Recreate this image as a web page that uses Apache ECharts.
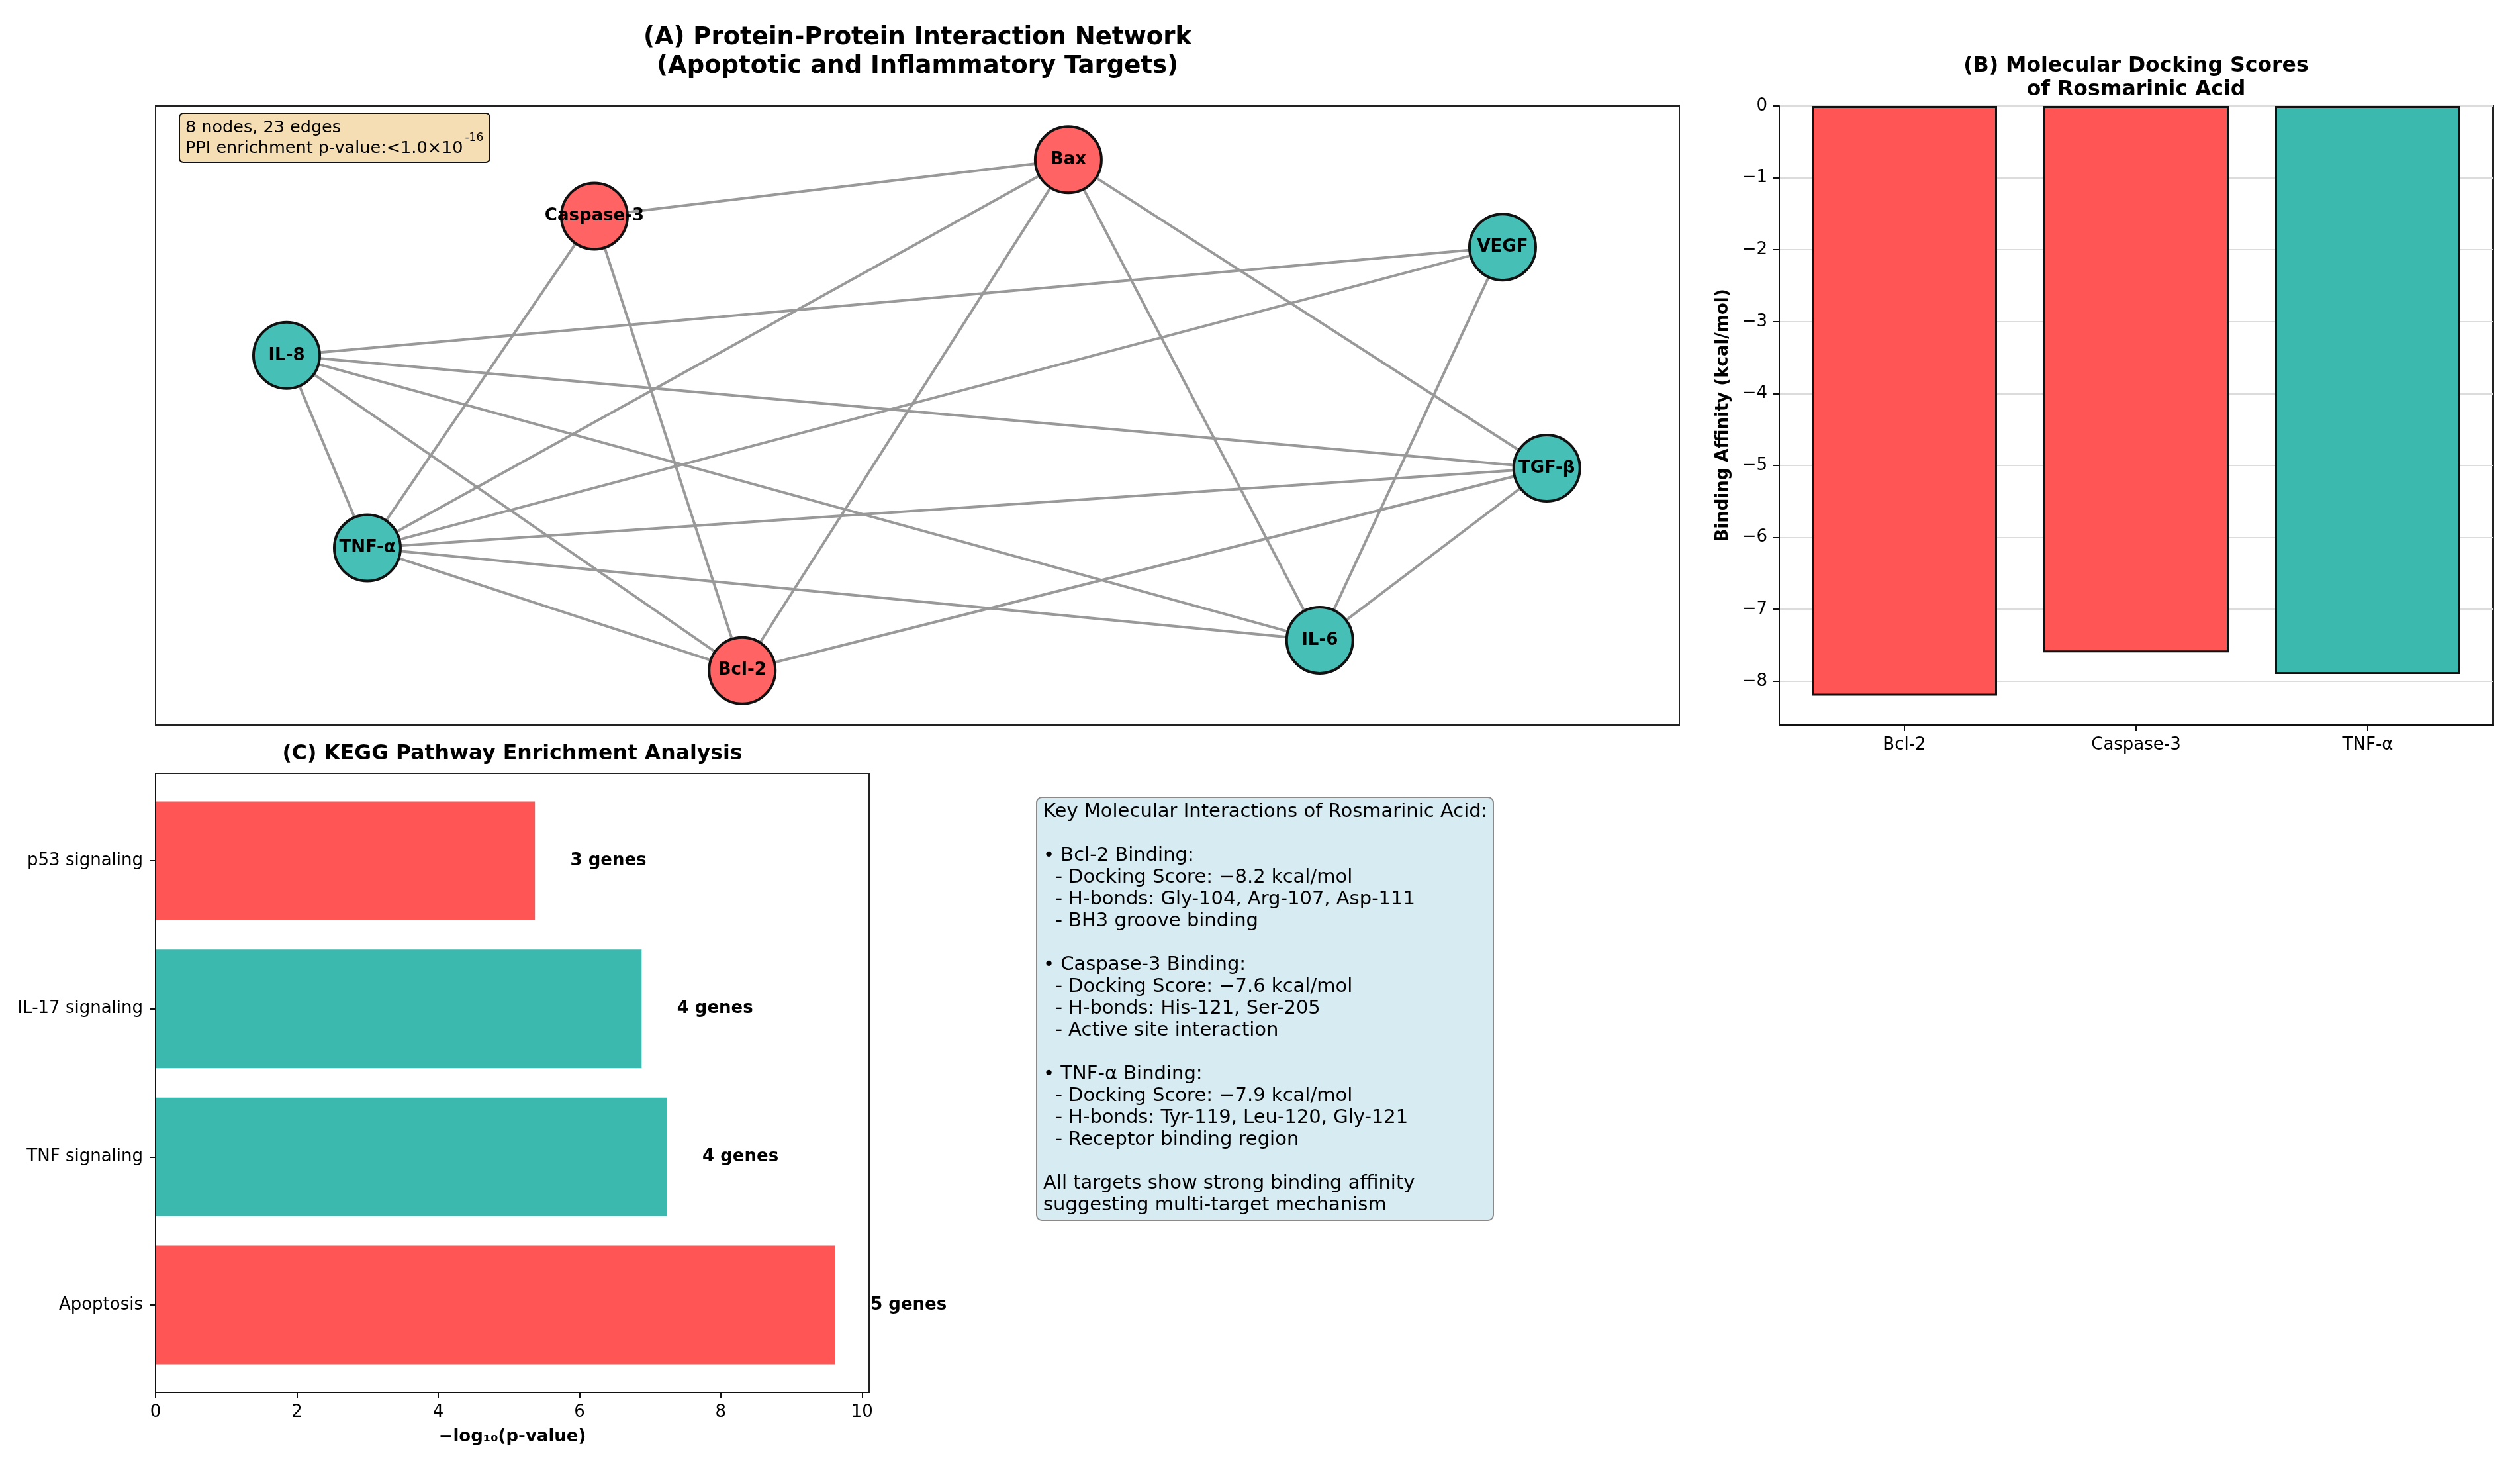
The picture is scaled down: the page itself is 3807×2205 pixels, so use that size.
<!DOCTYPE html>
<html>
<head>
<meta charset="utf-8">
<script src="https://cdn.jsdelivr.net/npm/echarts@6/dist/echarts.min.js"></script>
<style>
html,body{margin:0;padding:0;background:#fff;}
#chart{width:3807px;height:2205px;}
</style>
</head>
<body>
<div id="chart"></div>
<script>
// ---------------- DATA ----------------
// Panel A: PPI network (node positions in layout units 0..100)
const nodeNames = ['Bax', 'Caspase-3', 'VEGF', 'IL-8', 'TGF-β', 'TNF-α', 'IL-6', 'Bcl-2'];
const nodeX = [59.9, 28.8, 88.4, 8.6, 91.3, 13.9, 76.4, 38.5];
const nodeY = [91.3, 82.2, 77.2, 59.7, 41.5, 28.6, 13.7, 8.8];
const nodeGroup = ['apoptotic', 'apoptotic', 'inflammatory', 'inflammatory', 'inflammatory', 'inflammatory', 'inflammatory', 'apoptotic'];
const edgeSource = ['Caspase-3', 'Caspase-3', 'Caspase-3', 'Bax', 'Bax', 'Bax', 'Bax', 'VEGF', 'VEGF', 'VEGF', 'IL-8', 'IL-8', 'IL-8', 'IL-8', 'TNF-α', 'TNF-α', 'TNF-α', 'Bcl-2', 'IL-6'];
const edgeTarget = ['Bax', 'TNF-α', 'Bcl-2', 'TNF-α', 'Bcl-2', 'IL-6', 'TGF-β', 'IL-8', 'TNF-α', 'IL-6', 'TNF-α', 'Bcl-2', 'IL-6', 'TGF-β', 'TGF-β', 'IL-6', 'Bcl-2', 'TGF-β', 'TGF-β'];

// Panel B: docking scores
const dockTargets = ['Bcl-2', 'Caspase-3', 'TNF-α'];
const dockScores = [-8.2, -7.6, -7.9];
const dockGroup = ['apoptotic', 'apoptotic', 'inflammatory'];
const dockYTicks = [0, -1, -2, -3, -4, -5, -6, -7, -8];

// Panel C: KEGG enrichment (bottom to top)
const keggPathways = ['Apoptosis', 'TNF signaling', 'IL-17 signaling', 'p53 signaling'];
const keggLogP = [9.62, 7.24, 6.88, 5.37];
const keggGenes = [5, 4, 4, 3];
const keggGroup = ['apoptotic', 'inflammatory', 'inflammatory', 'apoptotic'];
const keggXTicks = [0, 2, 4, 6, 8, 10];

// Panel D text
const infoLines = [
  'Key Molecular Interactions of Rosmarinic Acid:',
  '',
  '• Bcl-2 Binding:',
  '  - Docking Score: −8.2 kcal/mol',
  '  - H-bonds: Gly-104, Arg-107, Asp-111',
  '  - BH3 groove binding',
  '',
  '• Caspase-3 Binding:',
  '  - Docking Score: −7.6 kcal/mol',
  '  - H-bonds: His-121, Ser-205',
  '  - Active site interaction',
  '',
  '• TNF-α Binding:',
  '  - Docking Score: −7.9 kcal/mol',
  '  - H-bonds: Tyr-119, Leu-120, Gly-121',
  '  - Receptor binding region',
  '',
  'All targets show strong binding affinity',
  'suggesting multi-target mechanism'
];

// ---------------- STYLE ----------------
const FONT = '"DejaVu Sans", "Noto Sans", sans-serif';
const nodeColors = { apoptotic: '#FF6363', inflammatory: '#46C0B7' };
const barColors = { apoptotic: '#FF5555', inflammatory: '#3CB9AE' };
const minusFmt = v => (v < 0 ? '−' + Math.abs(v) : String(v));

const axisCommon = {
  axisLine: { show: true, onZero: false, lineStyle: { color: '#111', width: 2 } },
  axisTick: { show: true, length: 9, lineStyle: { color: '#111', width: 2 } },
  axisLabel: { color: '#000', fontSize: 26, fontFamily: FONT },
  splitLine: { show: false }
};

const chart = echarts.init(document.getElementById('chart'), null, { renderer: 'canvas' });

const graphNodes = nodeNames.map((n, i) => ({
  name: n,
  value: [nodeX[i], nodeY[i]],
  itemStyle: { color: nodeColors[nodeGroup[i]] }
}));
const graphLinks = edgeSource.map((s, i) => ({ source: s, target: edgeTarget[i] }));

// measure annotation text to place the superscript right after it
const annFont = '25.5px ' + FONT;
const mctx = document.createElement('canvas').getContext('2d');
mctx.font = annFont;
const annLine2 = 'PPI enrichment p-value:<1.0×10';
const supX = 280 + mctx.measureText(annLine2).width + 3;

const option = {
  backgroundColor: '#fff',
  animation: false,
  grid: [
    { left: 235, top: 160, width: 2302, height: 935, show: true, borderColor: '#222', borderWidth: 2, backgroundColor: 'transparent' },
    { left: 2688, top: 160, width: 1078, height: 935, show: true, borderColor: '#222', borderWidth: 2, backgroundColor: 'transparent' },
    { left: 235, top: 1168, width: 1078, height: 935, show: true, borderColor: '#222', borderWidth: 2, backgroundColor: 'transparent' }
  ],
  xAxis: [
    { gridIndex: 0, type: 'value', min: 0, max: 100, show: false },
    Object.assign({}, axisCommon, {
      gridIndex: 1, type: 'value', min: -0.54, max: 2.54, position: 'bottom',
      axisTick: Object.assign({}, axisCommon.axisTick, { customValues: [0, 1, 2] }),
      axisLabel: Object.assign({}, axisCommon.axisLabel, { customValues: [0, 1, 2], margin: 17, formatter: v => dockTargets[Math.round(v)] })
    }),
    Object.assign({}, axisCommon, {
      gridIndex: 2, type: 'value', min: 0, max: 10.1, position: 'bottom',
      axisTick: Object.assign({}, axisCommon.axisTick, { customValues: keggXTicks }),
      axisLabel: Object.assign({}, axisCommon.axisLabel, { customValues: keggXTicks, margin: 17 }),
      name: '−log₁₀(p-value)', nameLocation: 'middle', nameGap: 54,
      nameTextStyle: { fontSize: 26, fontWeight: 'bold', fontFamily: FONT, color: '#000' }
    })
  ],
  yAxis: [
    { gridIndex: 0, type: 'value', min: 0, max: 100, show: false },
    Object.assign({}, axisCommon, {
      gridIndex: 1, type: 'value', min: -8.61, max: 0, position: 'left',
      axisTick: Object.assign({}, axisCommon.axisTick, { customValues: dockYTicks }),
      axisLabel: Object.assign({}, axisCommon.axisLabel, { customValues: dockYTicks, margin: 18, formatter: minusFmt }),
      splitLine: { show: true, lineStyle: { color: '#dcdcdc', width: 2 } },
      name: 'Binding Affinity (kcal/mol)', nameLocation: 'middle', nameGap: 72, nameRotate: 90,
      nameTextStyle: { fontSize: 26, fontWeight: 'bold', fontFamily: FONT, color: '#000' }
    }),
    Object.assign({}, axisCommon, {
      gridIndex: 2, type: 'value', min: -0.59, max: 3.59, position: 'left',
      axisTick: Object.assign({}, axisCommon.axisTick, { customValues: [0, 1, 2, 3] }),
      axisLabel: Object.assign({}, axisCommon.axisLabel, { customValues: [0, 1, 2, 3], margin: 19, formatter: v => keggPathways[Math.round(v)] })
    })
  ],
  series: [
    {
      type: 'graph',
      coordinateSystem: 'cartesian2d',
      xAxisIndex: 0, yAxisIndex: 0,
      layout: 'none',
      symbol: 'circle',
      symbolSize: 100,
      data: graphNodes,
      links: graphLinks,
      edgeSymbol: ['none', 'none'],
      lineStyle: { color: '#999999', width: 4, opacity: 1, curveness: 0 },
      itemStyle: { borderColor: '#111', borderWidth: 4 },
      label: { show: true, position: 'inside', color: '#000', fontSize: 26, fontWeight: 'bold', fontFamily: FONT },
      emphasis: { disabled: true },
      z: 3
    },
    {
      type: 'bar',
      xAxisIndex: 1, yAxisIndex: 1,
      barWidth: 280,
      data: dockScores.map((v, i) => ({
        value: [i, v],
        itemStyle: { color: barColors[dockGroup[i]], borderColor: '#111', borderWidth: 3 }
      })),
      emphasis: { disabled: true },
      z: 3
    },
    {
      type: 'custom',
      xAxisIndex: 2, yAxisIndex: 2,
      clip: false,
      encode: { x: 0, y: 1 },
      data: keggLogP.map((v, i) => [v, i, keggGenes[i]]),
      renderItem: function (params, api) {
        const v = api.value(0), idx = api.value(1);
        const p0 = api.coord([0, idx]);
        const p1 = api.coord([v, idx]);
        const h = api.size([0, 0.8])[1];
        const lp = api.coord([v + 0.5, idx]);
        return {
          type: 'group',
          children: [
            { type: 'rect', shape: { x: p0[0], y: p0[1] - h / 2, width: p1[0] - p0[0], height: h },
              style: { fill: barColors[keggGroup[params.dataIndex]] } },
            { type: 'text', x: lp[0], y: lp[1],
              style: { text: api.value(2) + ' genes', font: 'bold 26px ' + FONT, fill: '#000', textAlign: 'left', textVerticalAlign: 'middle' } }
          ]
        };
      },
      z: 3
    }
  ],
  graphic: [
    { type: 'text', x: 1386, y: 36, style: { text: '(A) Protein-Protein Interaction Network\n(Apoptotic and Inflammatory Targets)', font: 'bold 37px ' + FONT, lineHeight: 43, fill: '#000', textAlign: 'center', textVerticalAlign: 'top' } },
    { type: 'rect', shape: { x: 271, y: 171, width: 469, height: 74, r: 6 }, style: { fill: '#F5DEB3', stroke: '#111', lineWidth: 2 }, z: 10 },
    { type: 'text', x: 280, y: 193, style: { text: '8 nodes, 23 edges', font: annFont, fill: '#000', textAlign: 'left', textVerticalAlign: 'middle' }, z: 11 },
    { type: 'text', x: 280, y: 224, style: { text: annLine2, font: annFont, fill: '#000', textAlign: 'left', textVerticalAlign: 'middle' }, z: 11 },
    { type: 'text', x: supX, y: 209, style: { text: '-16', font: '17px ' + FONT, fill: '#000', textAlign: 'left', textVerticalAlign: 'middle' }, z: 11 },
    { type: 'text', x: 3227, y: 82, style: { text: '(B) Molecular Docking Scores\nof Rosmarinic Acid', font: 'bold 31.5px ' + FONT, lineHeight: 36, fill: '#000', textAlign: 'center', textVerticalAlign: 'top' } },
    { type: 'text', x: 774, y: 1139, style: { text: '(C) KEGG Pathway Enrichment Analysis', font: 'bold 31.5px ' + FONT, fill: '#000', textAlign: 'center', textVerticalAlign: 'middle' } },
    { type: 'rect', shape: { x: 1566, y: 1204, width: 690, height: 639, r: 8 }, style: { fill: '#D6EBF2', stroke: '#8a8a8a', lineWidth: 2 } },
    { type: 'text', x: 1576, y: 1210, style: { text: infoLines.join('\n'), font: '29px ' + FONT, lineHeight: 33, fill: '#000', textAlign: 'left', textVerticalAlign: 'top' } }
  ]
};
chart.setOption(option);
</script>
</body>
</html>
